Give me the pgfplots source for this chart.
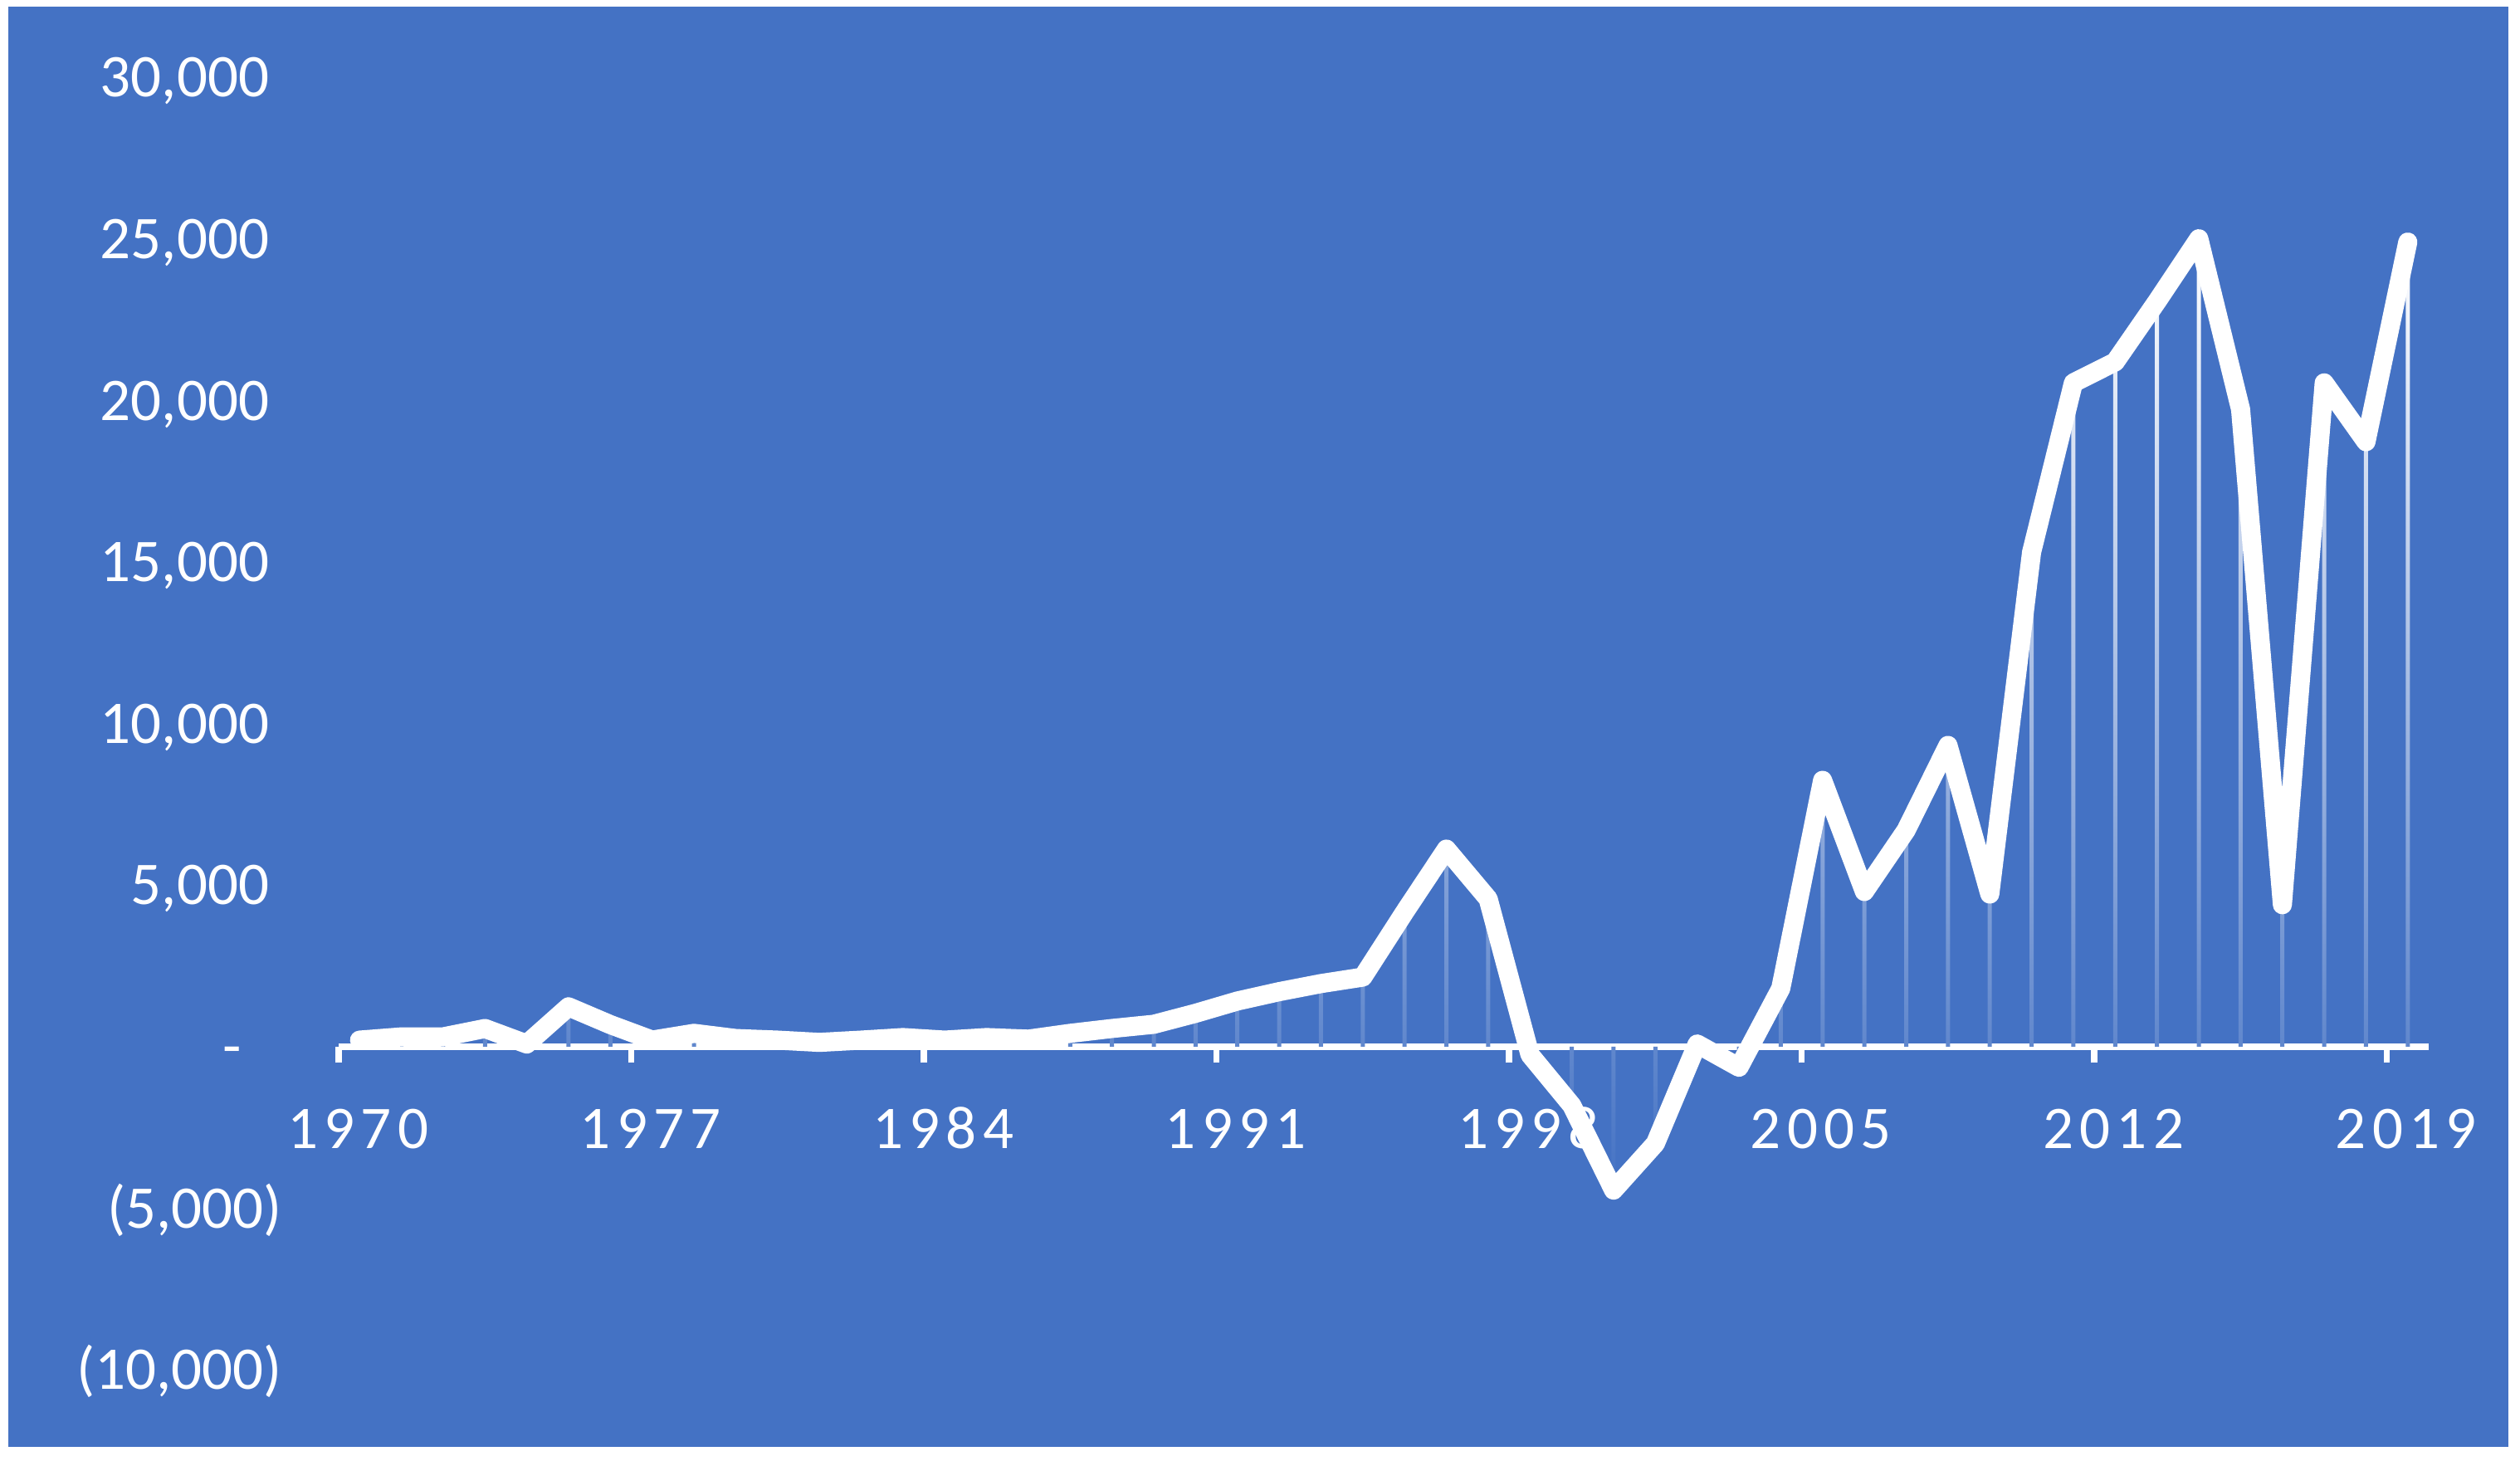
\documentclass[border=0pt]{standalone}
\usepackage{fontspec}
\setmainfont{Carlito}
\newfontfamily\spacedfont[LetterSpace=10]{Carlito}
\usepackage{pgfplots}
\usepackage{pgfplotstable}
\pgfplotsset{compat=1.18}
\definecolor{bgblue}{HTML}{4472C4}

\pgfplotstableread{
year val
1970 200
1971 300
1972 300
1973 560
1974 80
1975 1230
1976 680
1977 200
1978 410
1979 250
1980 200
1981 130
1982 200
1983 280
1984 200
1985 280
1986 230
1987 410
1988 560
1989 690
1990 1030
1991 1410
1992 1700
1993 1950
1994 2150
1995 4160
1996 6110
1997 4570
1998 -250
1999 -1820
2000 -4440
2001 -3000
2002 80
2003 -640
2004 1800
2005 8240
2006 4800
2007 6700
2008 9320
2009 4720
2010 15300
2011 20540
2012 21190
2013 23060
2014 25000
2015 19720
2016 4390
2017 20540
2018 18720
2019 24900
}\flows

\newcommand{\pad}[1]{#1\rule{3.2pt}{0pt}}

\begin{document}
\begin{tikzpicture}
% page and blue panel
\fill[white] (-81.6pt,-21.8pt) rectangle (525.6pt,330pt);
\fill[bgblue] (-79.6pt,-18.6pt) rectangle (522.8pt,328.4pt);
\begin{axis}[
    at={(0,0)}, anchor=south west,
    scale only axis,
    width=503.6pt, height=311.4pt,
    xmin=1969.5, xmax=2019.5,
    ymin=-10000, ymax=30000,
    axis x line*=middle,
    axis y line*=left,
    x axis line style={white, line width=1.5pt},
    y axis line style={draw=none},
    major tick length=0pt,
    minor tick length=3.9pt,
    tick align=outside,
    minor tick style={white, line width=1.5pt},
    scaled y ticks=false,
    xtick={1970,1977,1984,1991,1998,2005,2012,2019},
    xticklabels={1970,1977,1984,1991,1998,2005,2012,2019},
    minor xtick={1969.5,1976.5,1983.5,1990.5,1997.5,2004.5,2011.5,2018.5},
    ytick={-10000,-5000,0,5000,10000,15000,20000,25000,30000},
    yticklabels={{(10,000)},{(5,000)},{-\rule{9.8pt}{0pt}},{\pad{5,000}},{\pad{10,000}},{\pad{15,000}},{\pad{20,000}},{\pad{25,000}},{\pad{30,000}}},
    tick label style={text=white, inner sep=0pt, text height=0.63em, text depth=0pt},
    yticklabel style={font=\fontsize{14.6pt}{17pt}\selectfont, anchor=east, xshift=-13.4pt, yshift=-1.6pt},
    xticklabel style={font=\spacedfont\fontsize{14.6pt}{17pt}\selectfont, anchor=north, yshift=-18pt, xshift=-0.4pt},
]
% drop lines
\addplot[ybar, bar width=1pt, bar shift=0pt, draw=none,
    top color=white, bottom color=bgblue] table[x=year, y=val] {\flows};
% series
\addplot[white, line width=4.6pt, line join=round, line cap=round] table[x=year, y=val] {\flows};
\end{axis}
\end{tikzpicture}
\end{document}
